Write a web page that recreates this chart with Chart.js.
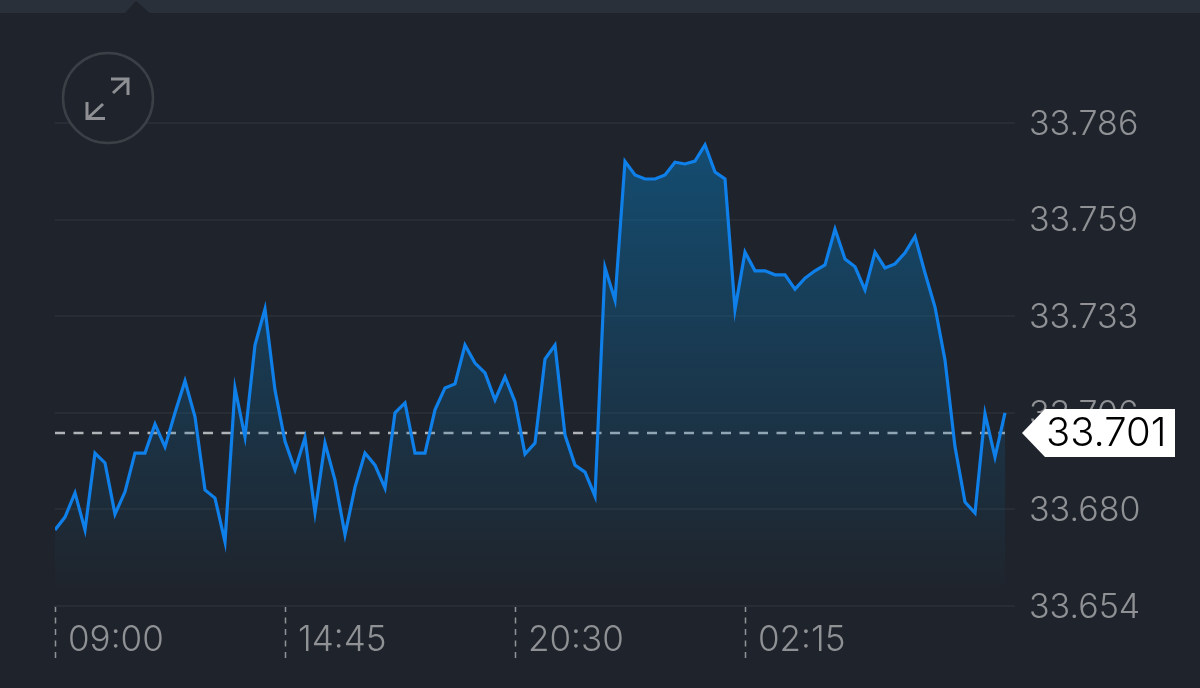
<!DOCTYPE html>
<html><head><meta charset="utf-8">
<style>html,body{margin:0;padding:0;background:#1f242c;overflow:hidden}canvas{display:block}</style>
<script src="https://cdn.jsdelivr.net/npm/chart.js@4"></script>
</head><body><canvas id="c" width="1200" height="688"></canvas>
<script>
const prices = [
33.6748,33.6783,33.6849,33.6748,33.6958,33.6931,33.6791,33.6852,33.6958,33.6958,
33.7037,33.6975,33.7068,33.7155,33.7057,33.6857,33.6835,33.6715,33.7135,33.7002,
33.7253,33.7352,33.7130,33.6990,33.6912,33.7000,33.6795,33.6985,33.6884,33.6735,
33.6865,33.6958,33.6925,33.6862,33.7068,33.7095,33.6958,33.6958,33.7076,33.7136,
33.7147,33.7253,33.7204,33.7177,33.7103,33.7166,33.7098,33.6955,33.6985,33.7215,
33.7253,33.7007,33.6925,33.6906,33.6840,33.7465,33.7376,33.7755,33.7718,33.7707,
33.7707,33.7718,33.7753,33.7748,33.7756,33.7800,33.7726,33.7707,33.7350,33.7507,
33.7456,33.7456,33.7445,33.7445,33.7406,33.7436,33.7456,33.7472,33.7570,33.7488,
33.7467,33.7404,33.7507,33.7464,33.7475,33.7505,33.7550,33.7450,33.7357,33.7212,
33.6975,33.6824,33.6794,33.7065,33.6947,33.7068];
const timeLabels = ['09:00','14:45','20:30','02:15'];
const timeTickIndex = [0,23,46,69];
const yTickValues = [33.654,33.6804,33.7068,33.7332,33.7596,33.786];
const yTickLabels = ['33.654','33.680','33.706','33.733','33.759','33.786'];
const lastPrice = 33.7013;
const lastPriceLabel = '33.701';
const FONT = 'Inter, "Liberation Sans", sans-serif';

const decor = {
  id:'decor',
  beforeDraw(ch){
    const g = ch.ctx; g.save();
    g.fillStyle='#1f242c'; g.fillRect(0,0,1200,688);
    g.fillStyle='#2a303a'; g.fillRect(0,0,1200,13);
    g.fillStyle='#1f242c'; g.beginPath(); g.moveTo(124,14); g.lineTo(136,1); g.lineTo(151,14); g.closePath(); g.fill();
    g.restore();
  },
  afterDraw(ch){
    const g = ch.ctx; g.save();
    g.strokeStyle='#3b3f46'; g.lineWidth=2.5;
    g.fillStyle='#1f242c';
    g.beginPath(); g.arc(108,98,45,0,Math.PI*2); g.fill(); g.stroke();
    g.strokeStyle='#8e9094'; g.lineWidth=3;
    g.beginPath(); g.moveTo(111,79); g.lineTo(128,79); g.lineTo(128,95); g.moveTo(113,93); g.lineTo(127,80);
    g.moveTo(87,102); g.lineTo(87,118.5); g.lineTo(105,118.5); g.moveTo(88,118); g.lineTo(103,104);
    g.stroke();
    const y = ch.scales.y.getPixelForValue(lastPrice);
    g.fillStyle='#ffffff';
    g.beginPath(); g.moveTo(1022,y); g.lineTo(1045,y-24); g.lineTo(1175,y-24); g.lineTo(1175,y+24); g.lineTo(1045,y+24); g.closePath(); g.fill();
    g.fillStyle='#000000'; g.font='300 40px '+FONT; g.textAlign='left'; g.textBaseline='middle';
    g.fillText(lastPriceLabel,1046,y+1);
    g.restore();
  }
};

new Chart(document.getElementById('c'),{
  type:'line',
  plugins:[decor],
  data:{datasets:[
    {data:prices.map((v,i)=>({x:i,y:v})),borderColor:'#0f7fe9',borderWidth:3.2,pointRadius:0,tension:0,borderJoinStyle:'miter',order:1,
     fill:'start',
     backgroundColor(c){
       const a=c.chart.chartArea; if(!a) return 'transparent';
       const gr=c.chart.ctx.createLinearGradient(0,142,0,590);
       gr.addColorStop(0,'rgba(10,110,170,0.55)');
       gr.addColorStop(1,'rgba(10,110,170,0)');
       return gr;
     }},
    {data:prices.map((v,i)=>({x:i,y:lastPrice})),borderColor:'#b0b3b7',borderWidth:2.5,borderDash:[10,8.5],pointRadius:0,fill:false,order:2}
  ]},
  options:{
    responsive:false,animation:false,
    layout:{padding:{left:55,top:123,right:0,bottom:0}},
    plugins:{legend:{display:false},tooltip:{enabled:false}},
    scales:{
      x:{type:'linear',min:0,max:96,
        afterBuildTicks(s){s.ticks=timeTickIndex.map(v=>({value:v}));},
        afterFit(s){s.height=82;},
        border:{display:false},
        grid:{drawOnChartArea:false,drawTicks:true,tickLength:52,tickColor:'#8f9296',tickWidth:1.5,tickBorderDash:[6,5.5]},
        ticks:{autoSkip:false,maxRotation:0,align:'start',labelOffset:13,padding:-39,color:'#8f9195',font:{family:FONT,size:35,weight:'300'},
          callback(v){return timeLabels[timeTickIndex.indexOf(v)];}}
      },
      y:{position:'right',min:33.654,max:33.786,
        afterBuildTicks(s){s.ticks=yTickValues.map(v=>({value:v}));},
        afterFit(s){s.width=185;},
        border:{display:false},
        grid:{color:'#282d35',lineWidth:2,drawTicks:false},
        ticks:{padding:14,crossAlign:'near',labelOffset:1.5,color:'#8f9195',font:{family:FONT,size:34,weight:'300'},
          callback(v){return yTickLabels[yTickValues.indexOf(v)];}}
      }
    }
  }
});
</script></body></html>
